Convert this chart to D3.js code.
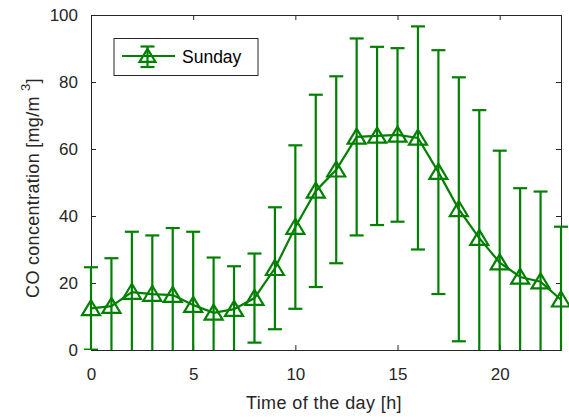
<!DOCTYPE html>
<html><head><meta charset="utf-8">
<script src="https://cdn.jsdelivr.net/npm/d3@7"></script>
<style>body{margin:0;background:#fff}</style>
</head><body>
<svg id="c" width="569" height="417"></svg>
<script>
const hours = [0,1,2,3,4,5,6,7,8,9,10,11,12,13,14,15,16,17,18,19,20,21,22,23];
const meanCO = [12.4,13.1,17.3,16.7,16.4,13.4,11.1,12.2,15.5,24.4,36.7,47.5,53.8,63.6,63.9,64.2,63.3,53.1,42.0,33.4,26.1,21.8,20.4,15.0];
const stdCO = [12.3,14.3,18.0,17.5,20.0,21.9,16.5,12.8,13.3,18.2,24.4,28.7,27.9,29.4,26.6,25.9,33.3,36.4,39.4,38.2,33.4,26.5,26.9,21.8];
const xTicks = [0,5,10,15,20];
const yTicks = [0,20,40,60,80,100];
const seriesName = "Sunday";

const data = hours.map((h,i)=>({h, m: meanCO[i], s: stdCO[i]}));

const svg = d3.select("#c");
const L=91, R=561, T=15, B=350;
const x = d3.scaleLinear().domain([0,23]).range([L,R]);
const y = d3.scaleLinear().domain([0,100]).range([B,T]);
const green = "#008000", axc = "#262626";
const font = "'Liberation Sans', Arial, Helvetica, sans-serif";

svg.append("defs").append("clipPath").attr("id","clip")
  .append("rect").attr("x",L-12).attr("y",T).attr("width",R-L+24).attr("height",B-T);

// axes
const tl = 5;
const gx = svg.append("g").attr("transform",`translate(0,${B})`)
  .call(d3.axisBottom(x).tickValues(xTicks).tickSize(-tl).tickPadding(18));
const gxt = svg.append("g").attr("transform",`translate(0,${T})`)
  .call(d3.axisTop(x).tickValues(xTicks).tickSize(-tl).tickFormat(""));
const gy = svg.append("g").attr("transform",`translate(${L},0)`)
  .call(d3.axisLeft(y).tickValues(yTicks).tickSize(-tl).tickPadding(13));
const gyr = svg.append("g").attr("transform",`translate(${R},0)`)
  .call(d3.axisRight(y).tickValues(yTicks).tickSize(-tl).tickFormat(""));
[gx,gxt,gy,gyr].forEach(g=>{
  g.select(".domain").attr("stroke",axc).attr("stroke-width",1);
  g.selectAll(".tick line").attr("stroke",axc).attr("stroke-width",1);
  g.selectAll("text").attr("fill",axc).style("font-family",font).style("font-size","17px");
});

const plot = svg.append("g").attr("clip-path","url(#clip)");
const cw = 7;
const sw = 2.2;
// error bars
const eb = plot.selectAll(".eb").data(data).enter().append("g");
eb.append("line").attr("x1",d=>x(d.h)).attr("x2",d=>x(d.h))
  .attr("y1",d=>y(d.m-d.s)).attr("y2",d=>y(d.m+d.s))
  .attr("stroke",green).attr("stroke-width",sw);
eb.append("line").attr("x1",d=>x(d.h)-cw).attr("x2",d=>x(d.h)+cw)
  .attr("y1",d=>y(d.m+d.s)).attr("y2",d=>y(d.m+d.s))
  .attr("stroke",green).attr("stroke-width",sw);
eb.filter(d=>d.m-d.s>0).append("line").attr("x1",d=>x(d.h)-cw).attr("x2",d=>x(d.h)+cw)
  .attr("y1",d=>y(d.m-d.s)).attr("y2",d=>y(d.m-d.s))
  .attr("stroke",green).attr("stroke-width",sw);

// line
plot.append("path").datum(data)
  .attr("d",d3.line().x(d=>x(d.h)).y(d=>y(d.m)))
  .attr("fill","none").attr("stroke",green).attr("stroke-width",sw);

// markers
const tri = (cx,cy,w,h)=>`M${cx},${cy-h*0.55}L${cx+w/2},${cy+h*0.45}L${cx-w/2},${cy+h*0.45}Z`;
svg.append("g").selectAll("path").data(data).enter().append("path")
  .attr("d",d=>tri(x(d.h),y(d.m),18,15))
  .attr("fill","none").attr("stroke",green).attr("stroke-width",sw);

// legend
const lg = svg.append("g");
lg.append("rect").attr("x",114).attr("y",38.5).attr("width",144).attr("height",37)
  .attr("fill","#fff").attr("stroke",axc).attr("stroke-width",1);
const ly = 56, lx = 147.5;
lg.append("line").attr("x1",122).attr("x2",175).attr("y1",ly).attr("y2",ly).attr("stroke",green).attr("stroke-width",sw);
lg.append("line").attr("x1",lx).attr("x2",lx).attr("y1",ly-9.5).attr("y2",ly+11).attr("stroke",green).attr("stroke-width",sw);
lg.append("line").attr("x1",lx-7).attr("x2",lx+7).attr("y1",ly-9.5).attr("y2",ly-9.5).attr("stroke",green).attr("stroke-width",sw);
lg.append("line").attr("x1",lx-7).attr("x2",lx+7).attr("y1",ly+11).attr("y2",ly+11).attr("stroke",green).attr("stroke-width",sw);
lg.append("path").attr("d",tri(lx,ly,16,13)).attr("fill","none").attr("stroke",green).attr("stroke-width",sw);
lg.append("text").attr("x",182).attr("y",63).text(seriesName)
  .attr("fill","#000").style("font-family",font).style("font-size","17.5px");

// axis labels
svg.append("text").attr("x",324).attr("y",409).attr("text-anchor","middle")
  .attr("fill",axc).style("font-family",font).style("font-size","18px").style("letter-spacing","0.4px").text("Time of the day [h]");
const yl = svg.append("text").attr("transform",`translate(39,188) rotate(-90)`)
  .attr("text-anchor","middle").attr("fill",axc).style("font-family",font).style("font-size","18px").style("letter-spacing","0.3px");
yl.append("tspan").text("CO concentration [mg/m ");
yl.append("tspan").attr("dy",-9).style("font-size","13px").text("3");
yl.append("tspan").attr("dy",9).text("]");
</script>
</body></html>
